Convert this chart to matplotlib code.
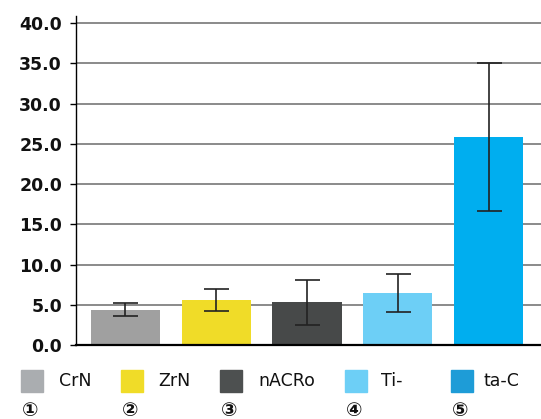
import matplotlib.pyplot as plt
from matplotlib.patches import Rectangle

# data
coatings = ['CrN', 'ZrN', 'nACRo', 'Ti-', 'ta-C']
markers = ['①', '②', '③', '④', '⑤']
values = [4.4, 5.6, 5.3, 6.45, 25.8]
errors = [0.8, 1.4, 2.8, 2.35, 9.2]
bar_colors = ['#a0a0a0', '#f0dc28', '#474949', '#6dcff6', '#00aeef']
legend_colors = ['#aaadb0', '#f0dc28', '#4d5050', '#6dcff6', '#1e9cd7']
yticks = [0, 5, 10, 15, 20, 25, 30, 35, 40]

fig = plt.figure(figsize=(5.41, 4.19), dpi=100)
ax = fig.add_axes([76 / 541, 1 - 345 / 419, 1 - 76 / 541, 329 / 419])

x = list(range(len(coatings)))
ax.bar(x, values, width=0.76, color=bar_colors, zorder=2)
ax.errorbar(x, values, yerr=errors, fmt='none', ecolor='#222222',
            elinewidth=1.2, capsize=9, capthick=1.2, zorder=3)

ax.set_ylim(0, 40.87)
ax.set_xlim(-0.544, 4.577)
ax.set_yticks(yticks)
ax.set_yticklabels([f'{t:.1f}' for t in yticks], fontsize=12.5,
                   fontweight='bold', color='#111111')
ax.set_xticks([])
ax.yaxis.grid(True, color='#8a8a8a', linewidth=1.4, zorder=0)
ax.set_axisbelow(True)
ax.tick_params(axis='y', length=4, width=1, pad=6)
for s in ['top', 'right']:
    ax.spines[s].set_visible(False)
ax.spines['left'].set_linewidth(1)
ax.spines['bottom'].set_linewidth(1.6)

# manual legend row with numbered markers underneath
sq_x = [21, 121, 220, 345, 451]
txt_x = [59, 158, 258, 381, 484]
for i in range(len(coatings)):
    fig.patches.append(Rectangle((sq_x[i] / 541, 1 - 392 / 419), 22 / 541, 22 / 419,
                                 transform=fig.transFigure, color=legend_colors[i]))
    fig.text(txt_x[i] / 541, 1 - 381 / 419, coatings[i], fontsize=12.5,
             va='center', ha='left', color='#111111')
    fig.text((sq_x[i] + 1) / 541, 1 - 410 / 419, markers[i], fontsize=14,
             va='center', ha='left', color='#111111', fontweight='bold',
             family=['DejaVu Sans', 'Noto Sans CJK SC'])

fig.savefig('out.png', dpi=100)
